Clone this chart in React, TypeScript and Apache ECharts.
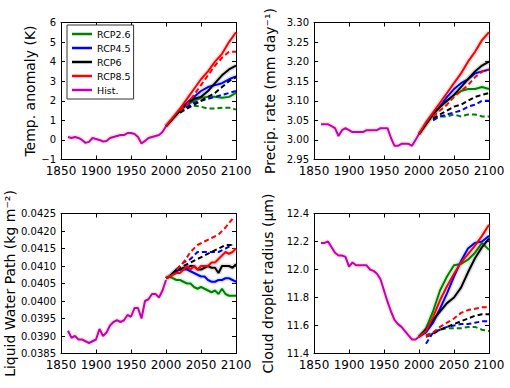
import React, { useEffect, useRef } from "react";
import * as echarts from "echarts";

// ---------- years ----------
const YEARS_HIST = [1860, 1865, 1870, 1875, 1880, 1885, 1890, 1895, 1900, 1905, 1910, 1915, 1920, 1925, 1930, 1935, 1940, 1945, 1950, 1955, 1960, 1965, 1970, 1975, 1980, 1985, 1990, 1995, 2000];
const YEARS_R10 = [2000, 2010, 2020, 2030, 2040, 2050, 2060, 2070, 2080, 2090, 2100];
const YEARS_R5 = [2000, 2005, 2010, 2015, 2020, 2025, 2030, 2035, 2040, 2045, 2050, 2055, 2060, 2065, 2070, 2075, 2080, 2085, 2090, 2095, 2100];
const YEARS_D2020 = [2020, 2030, 2040, 2050, 2060, 2070, 2080, 2090, 2100];
const YEARS_D2010 = [2010, 2020, 2030, 2040, 2050, 2060, 2070, 2080, 2090, 2100];
const YEARS_D2015 = [2015, 2025, 2035, 2045, 2055, 2065, 2075, 2085, 2095];

// ---------- panel 1: temperature anomaly (K) ----------
const T_HIST = [0.15, 0.1, 0.15, 0.1, 0.0, -0.15, -0.1, 0.1, 0.05, 0.0, -0.08, -0.05, 0.1, 0.15, 0.2, 0.25, 0.25, 0.35, 0.35, 0.3, 0.15, -0.18, -0.05, 0.1, 0.15, 0.2, 0.25, 0.4, 0.7];
const T_R26 = [0.7, 1.1, 1.5, 1.8, 2.0, 2.15, 2.2, 2.2, 2.15, 2.2, 2.4];
const T_R45 = [0.7, 1.1, 1.5, 1.9, 2.2, 2.5, 2.7, 2.8, 2.9, 3.1, 3.25];
const T_R60 = [0.7, 1.1, 1.5, 1.85, 2.1, 2.2, 2.5, 2.9, 3.3, 3.6, 3.8];
const T_R85 = [0.7, 1.15, 1.6, 2.1, 2.6, 3.1, 3.5, 4.0, 4.4, 5.0, 5.5];
const T_R26D = [1.4, 1.7, 1.75, 1.7, 1.6, 1.6, 1.65, 1.65, 1.55];
const T_R45D = [1.4, 1.7, 1.9, 2.0, 2.1, 2.2, 2.3, 2.4, 2.5];
const T_R60D = [1.4, 1.6, 1.8, 2.0, 2.2, 2.4, 2.7, 3.0, 3.2];
const T_R85D = [1.5, 1.8, 2.3, 2.8, 3.3, 3.8, 4.2, 4.5, 4.5];

// ---------- panel 2: precipitation rate (mm/day) ----------
const P_HIST = [3.04, 3.04, 3.04, 3.035, 3.03, 3.01, 3.025, 3.03, 3.025, 3.02, 3.02, 3.02, 3.02, 3.025, 3.025, 3.025, 3.025, 3.03, 3.03, 3.03, 3.005, 2.985, 2.985, 2.99, 2.99, 2.99, 2.985, 3.0, 3.015];
const P_R26 = [3.015, 3.04, 3.065, 3.085, 3.1, 3.115, 3.125, 3.13, 3.13, 3.135, 3.13];
const P_R45 = [3.015, 3.04, 3.065, 3.085, 3.11, 3.13, 3.145, 3.155, 3.17, 3.175, 3.18];
const P_R60 = [3.015, 3.04, 3.065, 3.085, 3.1, 3.115, 3.135, 3.155, 3.175, 3.19, 3.2];
const P_R85 = [3.015, 3.045, 3.07, 3.095, 3.12, 3.145, 3.17, 3.2, 3.225, 3.255, 3.275];
const P_R26D = [3.055, 3.06, 3.06, 3.065, 3.06, 3.065, 3.065, 3.06, 3.06];
const P_R45D = [3.05, 3.06, 3.065, 3.07, 3.075, 3.085, 3.09, 3.1, 3.1];
const P_R60D = [3.055, 3.065, 3.075, 3.085, 3.09, 3.1, 3.11, 3.115, 3.12];
const P_R85D = [3.06, 3.075, 3.09, 3.11, 3.125, 3.14, 3.16, 3.175, 3.18];

// ---------- panel 3: liquid water path (kg m-2) ----------
const L_HIST = [0.03915, 0.03895, 0.039, 0.0389, 0.0389, 0.03885, 0.0388, 0.03885, 0.0389, 0.0392, 0.039, 0.0391, 0.0393, 0.0394, 0.03945, 0.0394, 0.03945, 0.0396, 0.03955, 0.0398, 0.0398, 0.0395, 0.04, 0.04005, 0.0402, 0.0402, 0.0401, 0.0403, 0.0406];
const L_R26 = [0.04065, 0.0407, 0.04065, 0.0406, 0.0406, 0.04055, 0.0405, 0.0405, 0.0404, 0.04035, 0.0404, 0.04035, 0.0403, 0.04025, 0.0403, 0.0402, 0.04035, 0.0402, 0.04015, 0.04015, 0.04015];
const L_R45 = [0.04065, 0.0407, 0.0408, 0.04085, 0.0409, 0.0409, 0.0409, 0.04085, 0.0408, 0.04075, 0.0407, 0.0407, 0.0406, 0.04055, 0.04055, 0.0406, 0.0406, 0.04065, 0.04065, 0.0406, 0.04055];
const L_R60 = [0.04065, 0.0407, 0.0408, 0.0409, 0.0409, 0.04095, 0.04095, 0.041, 0.041, 0.0409, 0.0409, 0.04095, 0.041, 0.04095, 0.04095, 0.0408, 0.041, 0.041, 0.041, 0.04095, 0.04105];
const L_R85 = [0.04065, 0.0407, 0.04075, 0.0408, 0.0408, 0.0409, 0.041, 0.0409, 0.041, 0.0409, 0.041, 0.041, 0.041, 0.0411, 0.0411, 0.0412, 0.0413, 0.0414, 0.04135, 0.0414, 0.0415];
const L_R45D = [0.0409, 0.0411, 0.0412, 0.0414, 0.0414, 0.0414, 0.0414, 0.0415, 0.0416];
const L_R60D = [0.0409, 0.041, 0.0411, 0.0412, 0.0413, 0.0414, 0.0415, 0.0416, 0.0416];
const L_R85D = [0.0409, 0.0411, 0.0414, 0.0416, 0.0417, 0.0418, 0.0419, 0.0421, 0.04235];

// ---------- panel 4: cloud droplet radius (um) ----------
const R_HIST = [12.19, 12.19, 12.2, 12.16, 12.12, 12.1, 12.1, 12.09, 12.02, 12.05, 12.03, 12.03, 12.03, 12.03, 12.0, 11.99, 11.97, 11.93, 11.85, 11.77, 11.7, 11.64, 11.61, 11.59, 11.56, 11.53, 11.5, 11.5, 11.52];
const R_R26 = [11.52, 11.58, 11.7, 11.85, 11.95, 12.03, 12.04, 12.07, 12.12, 12.19, 12.14];
const R_R45 = [11.52, 11.55, 11.62, 11.72, 11.83, 11.95, 12.06, 12.15, 12.19, 12.2, 12.24];
const R_R60 = [11.52, 11.57, 11.64, 11.7, 11.76, 11.8, 11.87, 11.98, 12.08, 12.16, 12.22];
const R_R85 = [11.52, 11.56, 11.66, 11.78, 11.88, 11.97, 12.05, 12.11, 12.17, 12.24, 12.32];
const R_R26D = [11.53, 11.55, 11.57, 11.58, 11.58, 11.58, 11.59, 11.59, 11.57, 11.56];
const R_R45D = [11.47, 11.55, 11.57, 11.59, 11.6, 11.61, 11.61, 11.62, 11.63, 11.63];
const R_R60D = [11.52, 11.54, 11.57, 11.59, 11.61, 11.63, 11.65, 11.67, 11.68, 11.68];
const R_R85D = [11.52, 11.55, 11.59, 11.62, 11.65, 11.69, 11.71, 11.72, 11.73, 11.73];

const LEGEND_NAMES = ["RCP2.6", "RCP4.5", "RCP6", "RCP8.5", "Hist."];

const COLORS: Record<string, string> = {
  "RCP2.6": "#008000",
  "RCP4.5": "#0000ff",
  "RCP6": "#000000",
  "RCP8.5": "#ff0000",
  "Hist.": "#bf00bf",
};
const BAND: Record<string, string> = {
  "RCP2.6": "#7fe07f",
  "RCP4.5": "#8fb0ff",
  "RCP6": "#909090",
  "RCP8.5": "#ff9a9a",
  "Hist.": "#ffc89a",
};

const FONT = "DejaVu Sans";

const zip = (xs: number[], ys: number[]) => ys.map((y, i) => [xs[i], y]);

type Panel = {
  hist: number[];
  solids: [string, number[], number[]][];
  dashed: [string, number[], number[]][];
  min: number;
  max: number;
  interval: number;
  digits: number;
  name: string;
  nameGap: number;
};

const PANELS: Panel[] = [
  {
    hist: T_HIST,
    solids: [["RCP2.6", YEARS_R10, T_R26], ["RCP4.5", YEARS_R10, T_R45], ["RCP6", YEARS_R10, T_R60], ["RCP8.5", YEARS_R10, T_R85]],
    dashed: [["RCP2.6", YEARS_D2020, T_R26D], ["RCP4.5", YEARS_D2020, T_R45D], ["RCP6", YEARS_D2020, T_R60D], ["RCP8.5", YEARS_D2020, T_R85D]],
    min: -1, max: 6, interval: 1, digits: 0,
    name: "Temp. anomaly (K)", nameGap: 21,
  },
  {
    hist: P_HIST,
    solids: [["RCP2.6", YEARS_R10, P_R26], ["RCP4.5", YEARS_R10, P_R45], ["RCP6", YEARS_R10, P_R60], ["RCP8.5", YEARS_R10, P_R85]],
    dashed: [["RCP2.6", YEARS_D2020, P_R26D], ["RCP4.5", YEARS_D2020, P_R45D], ["RCP6", YEARS_D2020, P_R60D], ["RCP8.5", YEARS_D2020, P_R85D]],
    min: 2.95, max: 3.3, interval: 0.05, digits: 2,
    name: "Precip. rate (mm day\u207B\u00B9)", nameGap: 37,
  },
  {
    hist: L_HIST,
    solids: [["RCP2.6", YEARS_R5, L_R26], ["RCP4.5", YEARS_R5, L_R45], ["RCP6", YEARS_R5, L_R60], ["RCP8.5", YEARS_R5, L_R85]],
    dashed: [["RCP4.5", YEARS_D2015, L_R45D], ["RCP6", YEARS_D2015, L_R60D], ["RCP8.5", YEARS_D2015, L_R85D]],
    min: 0.0385, max: 0.0425, interval: 0.0005, digits: 4,
    name: "Liquid Water Path (kg m\u207B\u00B2)", nameGap: 44,
  },
  {
    hist: R_HIST,
    solids: [["RCP2.6", YEARS_R10, R_R26], ["RCP4.5", YEARS_R10, R_R45], ["RCP6", YEARS_R10, R_R60], ["RCP8.5", YEARS_R10, R_R85]],
    dashed: [["RCP2.6", YEARS_D2010, R_R26D], ["RCP4.5", YEARS_D2010, R_R45D], ["RCP6", YEARS_D2010, R_R60D], ["RCP8.5", YEARS_D2010, R_R85D]],
    min: 11.4, max: 12.4, interval: 0.2, digits: 1,
    name: "Cloud droplet radius (\u03BCm)", nameGap: 39,
  },
];

const GRIDS = [
  { left: 61, top: 22.5, width: 175, height: 137 },
  { left: 314, top: 22.5, width: 175, height: 137 },
  { left: 61, top: 213.5, width: 175, height: 140 },
  { left: 314, top: 213.5, width: 175, height: 140 },
];

function buildOption() {
  const xAxis: any[] = [];
  const yAxis: any[] = [];
  const series: any[] = [];
  const tick = { show: true, inside: true, length: 4, lineStyle: { color: "#000", width: 1 } };
  const line = { show: true, onZero: false, lineStyle: { color: "#000", width: 1 } };

  PANELS.forEach((p, i) => {
    xAxis.push({
      type: "value", gridIndex: i, min: 1850, max: 2100, interval: 50, position: "bottom",
      axisLine: line, axisTick: tick, splitLine: { show: false },
      axisLabel: {
        color: "#000", fontSize: 12, lineHeight: 12, fontFamily: FONT, margin: 5,
        formatter: (v: number) => String(Math.round(v)),
      },
    });
    yAxis.push({
      type: "value", gridIndex: i, min: p.min, max: p.max, interval: p.interval, position: "left",
      axisLine: line, axisTick: tick, splitLine: { show: false },
      axisLabel: {
        color: "#000", fontSize: 10, lineHeight: 10, fontFamily: FONT, margin: 5,
        formatter: (v: number) => (v < 0 ? "\u2212" + Math.abs(v).toFixed(p.digits) : v.toFixed(p.digits)),
      },
      name: p.name, nameLocation: "middle", nameRotate: 90, nameGap: p.nameGap,
      nameTextStyle: { color: "#000", fontSize: 14, fontFamily: FONT },
    });
  });
  // mirrored top / right axes (ticks only)
  PANELS.forEach((p, i) => {
    xAxis.push({
      type: "value", gridIndex: i, min: 1850, max: 2100, interval: 50, position: "top",
      axisLine: line, axisTick: tick, splitLine: { show: false }, axisLabel: { show: false },
    });
    yAxis.push({
      type: "value", gridIndex: i, min: p.min, max: p.max, interval: p.interval, position: "right",
      axisLine: line, axisTick: tick, splitLine: { show: false }, axisLabel: { show: false },
    });
  });

  PANELS.forEach((p, i) => {
    const base = { type: "line", xAxisIndex: i, yAxisIndex: i, symbol: "none", showSymbol: false, silent: true };
    // soft spread bands
    series.push({
      ...base, name: "band-hist-" + i, data: zip(YEARS_HIST, p.hist), z: 1,
      lineStyle: { color: BAND["Hist."], width: 5, opacity: 0.45 },
    });
    p.solids.forEach(([n, xs, ys]) => {
      series.push({
        ...base, name: "band-" + n + "-" + i, data: zip(xs, ys), z: 1,
        lineStyle: { color: BAND[n], width: 5, opacity: 0.3 },
      });
    });
    series.push({
      ...base, name: "Hist.", data: zip(YEARS_HIST, p.hist), z: 3,
      lineStyle: { color: COLORS["Hist."], width: 2 }, itemStyle: { color: COLORS["Hist."] },
    });
    p.solids.forEach(([n, xs, ys]) => {
      series.push({
        ...base, name: n, data: zip(xs, ys), z: 3,
        lineStyle: { color: COLORS[n], width: 2 }, itemStyle: { color: COLORS[n] },
      });
    });
    p.dashed.forEach(([n, xs, ys]) => {
      series.push({
        ...base, name: n + " (dashed)", data: zip(xs, ys), z: 4,
        lineStyle: { color: COLORS[n], width: 2, type: [5, 3] }, itemStyle: { color: COLORS[n] },
      });
    });
  });

  return {
    animation: false,
    backgroundColor: "#fff",
    textStyle: { fontFamily: FONT },
    grid: GRIDS.map((g) => ({ ...g, containLabel: false })),
    xAxis,
    yAxis,
    legend: {
      data: LEGEND_NAMES,
      orient: "vertical",
      left: 67,
      top: 25,
      padding: [4, 3, 4, 5],
      itemWidth: 20,
      itemHeight: 2.5,
      itemGap: 4,
      icon: "rect",
      borderColor: "#333",
      borderWidth: 1,
      backgroundColor: "#fff",
      selectedMode: false,
      textStyle: { color: "#000", fontSize: 9.5, lineHeight: 10, fontFamily: FONT },
      z: 10,
    },
    series,
  };
}

export default function App() {
  const ref = useRef<HTMLDivElement>(null);
  useEffect(() => {
    if (!ref.current) return;
    const chart = echarts.init(ref.current, undefined, { renderer: "svg" });
    chart.setOption(buildOption() as any);
    return () => chart.dispose();
  }, []);
  return (
    <div
      ref={ref}
      style={{ position: "fixed", left: 0, top: 0, width: 510, height: 388, background: "#fff" }}
    />
  );
}
